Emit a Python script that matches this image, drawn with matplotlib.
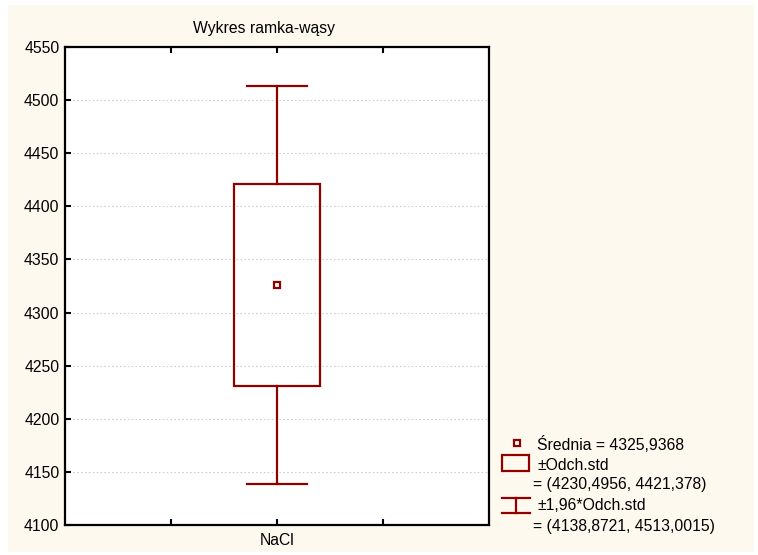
import matplotlib
matplotlib.use("Agg")
import matplotlib.pyplot as plt
from matplotlib.patches import Rectangle
from matplotlib.lines import Line2D

# ---- data ----
categories = ["NaCl"]
means = [4325.9368]
sd_low = [4230.4956]
sd_high = [4421.378]
ci_low = [4138.8721]
ci_high = [4513.0015]
yticks = [4100, 4150, 4200, 4250, 4300, 4350, 4400, 4450, 4500, 4550]
title = "Wykres ramka-wąsy"

RED = "#8f0000"
CREAM = "#fef9ee"
plt.rcParams['font.family'] = ['Liberation Sans', 'DejaVu Sans']

W, H = 758, 555
fig = plt.figure(figsize=(W / 100, H / 100), dpi=100)
fig.patch.set_facecolor("white")

def fx(px):
    return px / W

def fy(py):
    return 1 - py / H

# cream panel
fig.patches.append(Rectangle((fx(8), fy(552)), fx(754) - fx(8), fy(5) - fy(552),
                             transform=fig.transFigure, facecolor=CREAM,
                             edgecolor="none", zorder=-10))

ax = fig.add_axes([fx(65), fy(525), fx(489) - fx(65), fy(47) - fy(525)])
ax.set_facecolor("white")

positions = [2]
box_w = 0.82
cap_w = 0.57
for p, m, sl, sh, cl, ch in zip(positions, means, sd_low, sd_high, ci_low, ci_high):
    ax.add_patch(Rectangle((p - box_w / 2, sl), box_w, sh - sl, facecolor="none",
                           edgecolor=RED, lw=1.6, zorder=3))
    ax.plot([p, p], [sh, ch], color=RED, lw=1.6, zorder=3)
    ax.plot([p, p], [cl, sl], color=RED, lw=1.6, zorder=3)
    ax.plot([p - cap_w / 2, p + cap_w / 2], [ch, ch], color=RED, lw=1.6, zorder=3)
    ax.plot([p - cap_w / 2, p + cap_w / 2], [cl, cl], color=RED, lw=1.6, zorder=3)
    ax.plot([p], [m], marker="s", ms=5, mfc="white", mec=RED, mew=1.6, zorder=4)

FS = 11.3
ax.set_xlim(0, 4)
ax.set_ylim(4100, 4550)
ax.set_yticks(yticks)
ax.set_yticklabels([str(t) for t in yticks])
ax.set_xticks([1, 2, 3])
ax.set_xticklabels(["", categories[0], ""])
ax.tick_params(axis="both", direction="in", length=4, width=1.5, labelsize=FS,
               colors="black", top=True, right=False, pad=4)
ax.tick_params(axis="x", pad=6)
ax.yaxis.grid(True, linestyle=(0, (1.5, 2)), color="#cfcfcf", lw=0.8)
ax.set_axisbelow(True)
for s in ax.spines.values():
    s.set_linewidth(1.6)
    s.set_color("black")

fig.text(fx(264), fy(29), title, ha="center", va="center", fontsize=FS)

# legend
fs = FS
fig.add_artist(Line2D([fx(517)], [fy(443)], marker="s", ms=5, mfc="white", mec=RED,
                      mew=1.6, transform=fig.transFigure))
fig.text(fx(537), fy(444), "Średnia = %s" % f"{means[0]:.4f}".replace(".", ","),
         ha="left", va="center", fontsize=fs)
fig.patches.append(Rectangle((fx(502), fy(471)), fx(529) - fx(502), fy(455) - fy(471),
                             transform=fig.transFigure, facecolor="none",
                             edgecolor=RED, lw=1.6))
fig.text(fx(537), fy(465), "±Odch.std", ha="left", va="center", fontsize=fs)
fig.text(fx(533), fy(485), "= (%s, %s)" % (str(sd_low[0]).replace(".", ","),
                                             str(sd_high[0]).replace(".", ",")),
         ha="left", va="center", fontsize=fs)
fig.add_artist(Line2D([fx(502), fx(530)], [fy(498), fy(498)], color=RED, lw=1.6,
                      transform=fig.transFigure))
fig.add_artist(Line2D([fx(502), fx(530)], [fy(513), fy(513)], color=RED, lw=1.6,
                      transform=fig.transFigure))
fig.add_artist(Line2D([fx(516), fx(516)], [fy(498), fy(513)], color=RED, lw=1.6,
                      transform=fig.transFigure))
fig.text(fx(537), fy(506), "±1,96*Odch.std", ha="left", va="center", fontsize=fs)
fig.text(fx(533), fy(526), "= (%s, %s)" % (f"{ci_low[0]:.4f}".replace(".", ","),
                                             f"{ci_high[0]:.4f}".replace(".", ",")),
         ha="left", va="center", fontsize=fs)

fig.savefig("out.png", dpi=100, facecolor="white")
